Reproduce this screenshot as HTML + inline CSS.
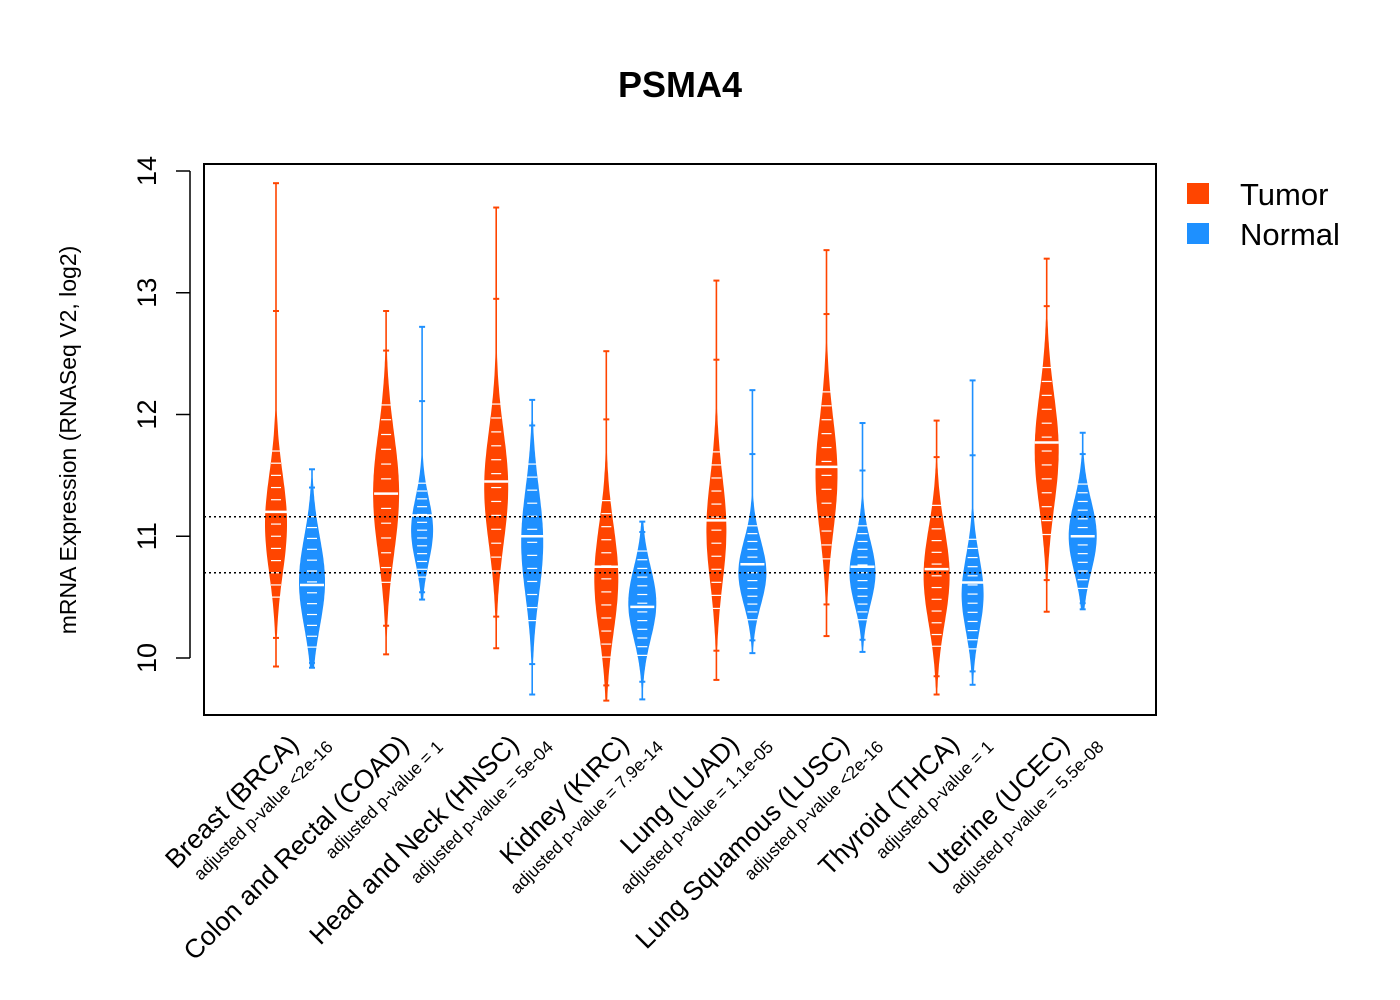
<!DOCTYPE html>
<html><head><meta charset="utf-8"><style>
body{margin:0;background:#fff;}
svg{display:block;font-family:"Liberation Sans",Arial,sans-serif;}
</style></head><body>
<svg id="chart" width="1400" height="1000" viewBox="0 0 1400 1000">
<rect width="1400" height="1000" fill="#fff"/>
<text x="680" y="97" text-anchor="middle" font-size="36" font-weight="bold">PSMA4</text>
<g id="beans"></g>
<rect x="204" y="164" width="952" height="551" fill="none" stroke="#000" stroke-width="2"/>
<g id="yaxis"></g>
<text transform="translate(76,440) rotate(-90)" text-anchor="middle" font-size="23">mRNA Expression (RNASeq V2, log2)</text>
<g id="xlabels"></g>
<g>
<rect x="1187" y="183" width="22" height="21" fill="#FF4500"/>
<text x="1240" y="205" font-size="31">Tumor</text>
<rect x="1187" y="223" width="22" height="21" fill="#1E90FF"/>
<text x="1240" y="245" font-size="31">Normal</text>
</g>
</svg>
<script>
const categories=["Breast (BRCA)","Colon and Rectal (COAD)","Head and Neck (HNSC)","Kidney (KIRC)","Lung (LUAD)","Lung Squamous (LUSC)","Thyroid (THCA)","Uterine (UCEC)"];
const pvalues=["adjusted p-value <2e-16","adjusted p-value = 1","adjusted p-value = 5e-04","adjusted p-value = 7.9e-14","adjusted p-value = 1.1e-05","adjusted p-value <2e-16","adjusted p-value = 1","adjusted p-value = 5.5e-08"];
const tumorMedian=[11.2,11.35,11.45,10.75,11.13,11.57,10.73,11.77];
const tumorMin=[9.93,10.03,10.08,9.65,9.82,10.18,9.7,10.38];
const tumorMax=[13.9,12.85,13.7,12.52,13.1,13.35,11.95,13.28];
const tumorBodyLo=[10.4,10.5,10.6,9.9,10.3,10.7,10.0,10.9];
const tumorBodyHi=[11.8,12.2,12.2,11.4,11.8,12.3,11.35,12.5];
const tumorWidth=[11,13,12,12,10,11,13,12];
const normalMedian=[10.6,11.17,11.0,10.42,10.77,10.75,10.62,11.0];
const normalMin=[9.92,10.48,9.7,9.66,10.04,10.05,9.78,10.4];
const normalMax=[11.55,12.72,12.12,11.12,12.2,11.93,12.28,11.85];
const normalBodyLo=[10.0,10.6,10.2,9.95,10.25,10.25,10.0,10.5];
const normalBodyHi=[11.25,11.5,11.7,10.95,11.15,11.15,11.05,11.5];
const normalWidth=[13,11,11,14,14,13,11,14];
const refLines=[11.16,10.7];
const yTicks=[10,11,12,13,14];

const NS="http://www.w3.org/2000/svg";
const y=v=>658-(v-10)*121.75;
const xT=i=>276+i*110.1;
const xN=i=>312+i*110.1;
function mk(tag,attrs,parent){const e=document.createElementNS(NS,tag);for(const k in attrs)e.setAttribute(k,attrs[k]);parent.appendChild(e);return e;}
const beans=document.getElementById('beans');
function bean(cx,med,mn,mx,lo,hi,hw,col,name){
  const g=mk('g',{},beans);
  
  
  const sig=(hi-lo)/3.4;
  const n=100,L=[],R=[];
  for(let k=0;k<=n;k++){
    const v=mn+(mx-mn)*k/n;
    let w=hw*Math.exp(-0.5*Math.pow((v-(lo+hi)/2)/sig,2));
    w=Math.max(w,0.8);
    R.push((cx+w).toFixed(1)+','+y(v).toFixed(1));
    L.unshift((cx-w).toFixed(1)+','+y(v).toFixed(1));
  }
  const p=mk('polygon',{points:R.concat(L).join(' '),fill:col},g);
  
  
  for(let k=1;k<14;k++){
    const v=lo+(hi-lo)*k/14;
    const ln=mk('line',{x1:cx-5,x2:cx+5,y1:y(v),y2:y(v),stroke:'#fff','stroke-width':1.2},g);
    
    
  }
  const pts=[mn,mx,(mx+hi)/2,(mn+lo)/2];
  pts.forEach(v=>{
    const t=mk('line',{x1:cx-3,x2:cx+3,y1:y(v),y2:y(v),stroke:col,'stroke-width':2},g);
    
    
  });
  const m=mk('line',{x1:cx-12,x2:cx+12,y1:y(med),y2:y(med),stroke:'#fff','stroke-width':2.5},g);
  
  
}
for(let i=0;i<categories.length;i++){
  bean(xT(i),tumorMedian[i],tumorMin[i],tumorMax[i],tumorBodyLo[i],tumorBodyHi[i],tumorWidth[i],'#FF4500','tumor-bean');
  bean(xN(i),normalMedian[i],normalMin[i],normalMax[i],normalBodyLo[i],normalBodyHi[i],normalWidth[i],'#1E90FF','normal-bean');
}
refLines.forEach(v=>{
  const l=mk('line',{x1:204,x2:1156,y1:y(v),y2:y(v),stroke:'#000','stroke-width':1.5,'stroke-dasharray':'2,3'},beans);
  
  
});
const ya=document.getElementById('yaxis');
const ax=mk('line',{x1:190,x2:190,y1:y(10),y2:y(14),stroke:'#000','stroke-width':1.5},ya);


yTicks.forEach(v=>{
  const t=mk('line',{x1:176,x2:190,y1:y(v),y2:y(v),stroke:'#000','stroke-width':1.5},ya);
  
  
  const tx=mk('text',{transform:`translate(156,${y(v)}) rotate(-90)`,'text-anchor':'middle','font-size':27},ya);
  tx.textContent=v;
  
  
});
const xl=document.getElementById('xlabels');
for(let i=0;i<categories.length;i++){
  const a=xT(i)+24,b=xN(i)+22;
  const t=mk('text',{transform:`translate(${a},746) rotate(-45)`,'text-anchor':'end','font-size':26.5},xl);
  t.textContent=categories[i];
  
  
  const p=mk('text',{transform:`translate(${b},748) rotate(-45)`,'text-anchor':'end','font-size':17.5},xl);
  p.textContent=pvalues[i];
  
  
}
</script>
</body></html>
